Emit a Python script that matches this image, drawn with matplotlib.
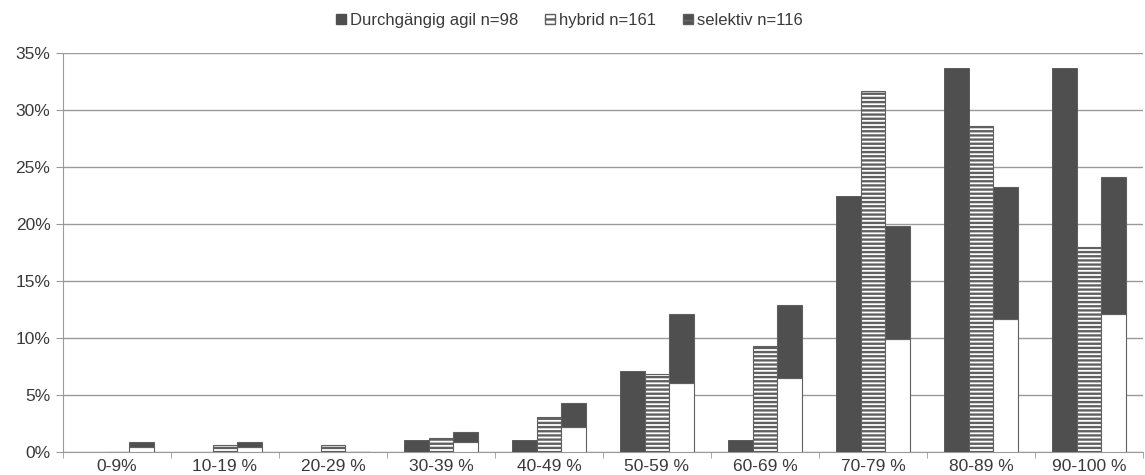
import numpy as np
import matplotlib.pyplot as plt
from matplotlib.patches import Patch

# Data (percent per category)

categories = ["0-9%", "10-19 %", "20-29 %", "30-39 %", "40-49 %",
              "50-59 %", "60-69 %", "70-79 %", "80-89 %", "90-100 %"]
agil = [0.0, 0.0, 0.0, 1.02, 1.02, 7.14, 1.02, 22.45, 33.67, 33.67]
hybrid = [0.0, 0.62, 0.62, 1.24, 3.11, 6.83, 9.32, 31.68, 28.57, 18.01]
selektiv = [0.86, 0.86, 0.0, 1.72, 4.31, 12.07, 12.93, 19.83, 23.28, 24.14]
series_labels = ["Durchgängig agil n=98", "hybrid n=161", "selektiv n=116"]


def main():
    plt.rcParams["font.family"] = ["Liberation Sans", "DejaVu Sans"]
    plt.rcParams["hatch.linewidth"] = 1.7
    plt.rcParams["hatch.color"] = "#333333"

    dark = "#4f4f4f"
    edge = "#606060"
    txt = "#3a3a3a"

    fig = plt.figure(figsize=(11.45, 4.75), dpi=100)
    ax = fig.add_axes([63 / 1145, 1 - 452 / 475, 1080 / 1145, 399 / 475])

    x = np.arange(len(categories))
    w = 0.227

    # Durchgängig agil - solid dark
    ax.bar(x - w, agil, w, color=dark, edgecolor=dark, linewidth=0.6, zorder=3)

    # hybrid - horizontal stripes
    ax.bar(x, hybrid, w, color="white", edgecolor=edge, hatch="----",
           linewidth=0.8, zorder=3)

    # selektiv - lower half white, upper half dark
    sel = np.array(selektiv)
    ax.bar(x + w, sel / 2, w, color="white", edgecolor=edge, linewidth=0.8,
           zorder=3)
    ax.bar(x + w, sel / 2, w, bottom=sel / 2, color=dark, edgecolor=edge,
           linewidth=0.8, zorder=3)

    # axes styling
    ax.set_xlim(-0.5, len(categories) - 0.5)
    ax.set_ylim(0, 35)
    ax.set_yticks(np.arange(0, 36, 5))
    ax.set_yticklabels([f"{v}%" for v in range(0, 36, 5)])
    ax.yaxis.grid(True, color="#9a9a9a", linewidth=1.0, zorder=0)
    ax.set_axisbelow(True)

    ax.set_xticks(x)
    ax.set_xticklabels(categories)
    ax.set_xticks(np.arange(-0.5, len(categories), 1.0), minor=True)
    ax.tick_params(axis="x", which="major", length=0, pad=5,
                   labelsize=12.5, colors=txt)
    ax.tick_params(axis="x", which="minor", length=4, color="#9a9a9a")
    ax.tick_params(axis="y", length=5, color="#9a9a9a", labelsize=12.5,
                   colors=txt, pad=4)

    for s in ["top", "right"]:
        ax.spines[s].set_visible(False)
    ax.spines["left"].set_color("#9a9a9a")
    ax.spines["bottom"].set_color("#9a9a9a")

    # legend
    handles = [
        Patch(facecolor=dark, edgecolor=dark),
        Patch(facecolor="white", edgecolor=edge, hatch="---"),
        Patch(facecolor=dark, edgecolor=edge, hatch="--"),
    ]
    fig.legend(handles, series_labels, loc="center",
               bbox_to_anchor=(0.497, 0.957), ncol=3, frameon=False,
               fontsize=12, handlelength=0.6, handleheight=0.6,
               handletextpad=0.25, columnspacing=1.6, labelcolor=txt)

    plt.savefig("out.png", dpi=100)
    plt.close()


if __name__ == "__main__":
    main()
